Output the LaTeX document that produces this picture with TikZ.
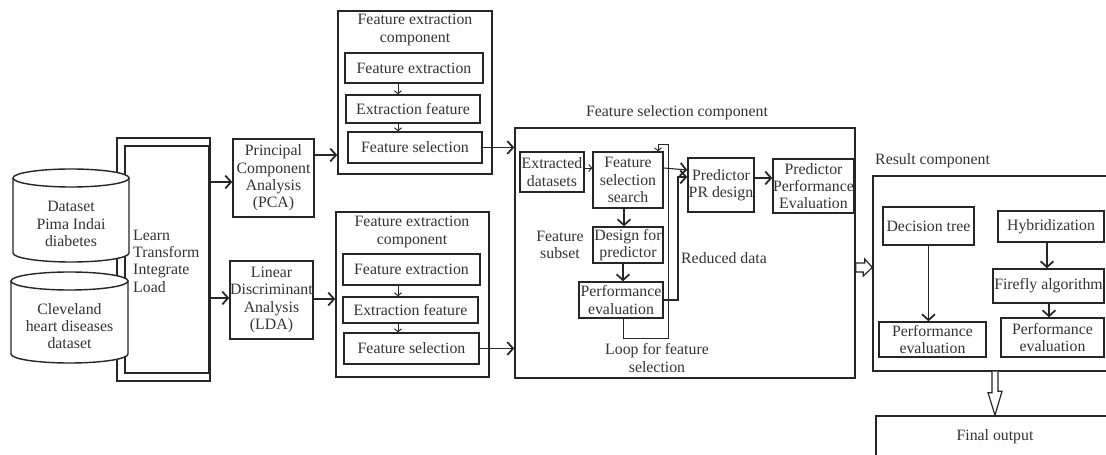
\documentclass[tikz,border=0pt]{standalone}
\usepackage{fontspec}
\setmainfont{Liberation Serif}
\usetikzlibrary{arrows.meta,calc}
\begin{document}
\begin{tikzpicture}[
    x=0.03cm, y=-0.03cm,
    every node/.style={font=\fontsize{13.5}{14.8}\selectfont, text=black!80, inner sep=0pt},
    span/.style n args={4}{at={({(#1+#3)/2},{(#2+#4)/2})},
        minimum width={(#3-#1)*0.03cm}, minimum height={(#4-#2)*0.03cm}},
    box/.style={draw=black!85, line width=1.2pt, align=center},
    cyl/.style={draw=black!85, line width=1.2pt, fill=white},
    link/.style={draw=black!85, line width=0.9pt, -{Straight Barb[length=5pt,width=11pt,line width=1.5pt]}},
    tiny/.style={draw=black!85, line width=0.8pt, -{Straight Barb[length=2.5pt,width=6pt]}},
    hollow/.style={draw=black!85, line width=1pt, fill=white}
]
\useasboundingbox (0,0) rectangle (1106,455);
\node[box, span={117}{138}{210}{381}] (ltilo) {};
\node[box, span={125}{146}{209}{373}] (ltil) {};
\node[align=left, anchor=west] (ltiltext) at (133,261) {Learn\\Transform\\Integrate\\Load};
\draw[cyl] (13,178) -- (13,253) arc[start angle=180, end angle=360, x radius=1.74cm, y radius=0.27cm] -- (129,178);
\draw[cyl] (71,178) ellipse[x radius=1.74cm, y radius=0.27cm];
\node[align=center] (pima) at (71,224) {Dataset\\Pima Indai\\diabetes};
\draw[cyl] (11,281) -- (11,354) arc[start angle=180, end angle=360, x radius=1.755cm, y radius=0.27cm] -- (128,281);
\draw[cyl] (69.5,281) ellipse[x radius=1.755cm, y radius=0.27cm];
\node[align=center] (cleve) at (69.5,326) {Cleveland\\heart diseases\\dataset};

\node[box, span={233}{139}{314}{217}] (pca) {Principal\\Component\\Analysis\\(PCA)};
\node[box, span={230}{261}{313}{339}] (lda) {Linear\\Discriminant\\Analysis\\(LDA)};

\node[box, span={338}{11}{492}{174}] (fe1) {};
\node[align=center] (fe1title) at (415,30) {Feature extraction\\component};
\node[box, span={345}{53}{483}{83}] (fe1a) {Feature extraction};
\node[box, span={346}{95}{480}{123}] (fe1b) {Extraction feature};
\node[box, span={348}{132}{482}{163}] (fe1c) {Feature selection};

\node[box, span={336}{212}{489}{377}] (fe2) {};
\node[align=center] (fe2title) at (412,232) {Feature extraction\\component};
\node[box, span={343}{254}{480}{285}] (fe2a) {Feature extraction};
\node[box, span={343}{297}{478}{323}] (fe2b) {Extraction feature};
\node[box, span={344}{333}{479}{364}] (fe2c) {Feature selection};

\node (fsctitle) at (677,113) {Feature selection component};
\node[box, span={515}{128}{855}{378}] (fsc) {};
\node[box, span={520}{152}{584}{192}] (ed) {Extracted\\datasets};
\node[box, span={593}{152}{663}{208}] (fss) {Feature\\selection\\search};
\node[box, span={593}{227}{663}{263}] (dfp) {Design for\\predictor};
\node[box, span={579}{282}{663}{318}] (pe) {Performance\\evaluation};
\node[box, span={688}{158}{754}{212}] (ppr) {Predictor\\PR design};
\node[box, span={773}{159}{854}{213}] (ppe) {Predictor\\Performance\\Evaluation};
\node[align=center] (fsub) at (560,245) {Feature\\subset};
\node (rdata) at (724,258) {Reduced data};
\node[align=center] (loop) at (657,358) {Loop for feature\\selection};

\node[anchor=west] (rctitle) at (875,161) {Result component};
\node[box, span={873}{176}{1117}{371}] (rc) {};
\node[box, span={883}{207}{974}{245}] (dt) {Decision tree};
\node[box, span={998}{211}{1104}{242}] (hy) {Hybridization};
\node[box, span={993}{269}{1104}{303}] (fa) {Firefly algorithm};
\node[box, span={879}{322}{986}{357}] (pe1) {Performance\\evaluation};
\node[box, span={1001}{318}{1104}{357}] (pe2) {Performance\\evaluation};
\node[box, span={876}{416}{1114}{457}] (fo) {Final output};

\draw[link] (ltil.east |- 0,182) -- (pca.west |- 0,182);
\draw[link] (ltil.east |- 0,298) -- (lda.west |- 0,298);
\draw[link] (pca.east |- 0,155) -- (fe1.west |- 0,155);
\draw[link] (lda.east |- 0,299) -- (fe2.west |- 0,299);
\draw[tiny] (fe1a.south -| 398,0) -- (fe1b.north -| 398,0);
\draw[tiny] (fe1b.south -| 398,0) -- (fe1c.north -| 398,0);
\draw[tiny] (fe2a.south -| 398,0) -- (fe2b.north -| 398,0);
\draw[tiny] (fe2b.south -| 398,0) -- (fe2c.north -| 398,0);
\draw[link] (fe1c.east) -- (fsc.west |- fe1c.east);
\draw[link] (fe2c.east) -- (fsc.west |- fe2c.east);
\draw[tiny] (ed.east |- 0,168) -- (fss.west |- 0,168);
\draw[link] (fss.south -| 624,0) -- (dfp.north -| 624,0);
\draw[link] (dfp.south -| 623,0) -- (pe.north -| 623,0);
\draw[tiny] (pe.south -| 623,0) -- ++(0,20) -| (668,144) -| (fss.north -| 658,0);
\draw[link] (pe.east) -| (678,177) -- (ppr.west |- 0,177);
\draw[link] (fss.east |- 0,168) -- (ppr.west |- 0,170);
\draw[link] (ppr.east |- 0,178) -- (ppe.west |- 0,178);
\draw[link] (dt.south) -- (dt.south |- pe1.north);
\draw[link] (hy.south -| 1047,0) -- (fa.north -| 1047,0);
\draw[link] (fa.south -| 1049,0) -- (pe2.north -| 1049,0);
\draw[hollow] (fsc.east |- 0,263) -- ++(9,0) -- ++(0,-4) -- (rc.west |- 0,267.5) -- ++(-9,8.5) -- ++(0,-4) -- (fsc.east |- 0,272) -- cycle;
\draw[hollow] ($(rc.south)+(-3,0)$) -- ++(0,21) -- ++(-4,0) -- (fo.north) -- ++(7,-24) -- ++(-4,0) -- ($(rc.south)+(3,0)$);
\end{tikzpicture}
\end{document}
